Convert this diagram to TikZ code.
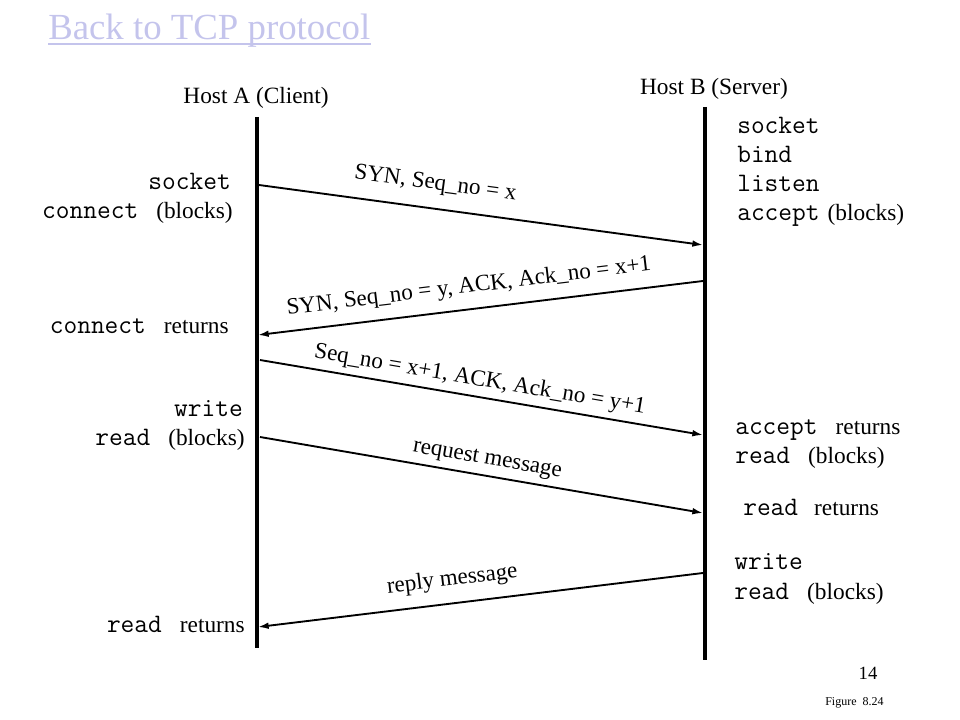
\documentclass[tikz,border=0pt]{standalone}
\usepackage{fontspec}
\setmainfont{Liberation Serif}
\usetikzlibrary{arrows.meta,calc}
\definecolor{linkcol}{RGB}{196,196,236}
\newcommand\mygap{\hspace{13.5pt}}
\newcommand\mono[1]{{\fontsize{20}{21}\ttfamily #1}}
\begin{document}
\begin{tikzpicture}[x=0.75pt,y=-0.75pt,
  txt/.style={inner sep=0pt, font=\fontsize{17.5}{21}\selectfont},
  lifeline/.style={line width=3pt},
  msg/.style={line width=1.4pt, -{Latex[length=8pt,width=5pt]}},
  lbl/.style={sloped, inner sep=0pt, font=\fontsize{17.3}{20}\selectfont},
]
\useasboundingbox (0,0) rectangle (960,720);

% title link
\node[anchor=base west, inner sep=0pt, text=linkcol, font=\fontsize{27.6}{32}\selectfont] (title) at (48,40) {Back to TCP protocol};
\draw[linkcol, line width=1.1pt] ($(title.base west)+(0,4)$) -- ($(title.base east)+(0,4)$);

% hosts
\node[txt, anchor=base] (hostA) at (256,104) {Host A (Client)};
\node[txt, anchor=base] (hostB) at (714,95) {Host B (Server)};

% lifelines
\coordinate (Atop) at (257,117);
\coordinate (Abot) at (257,648);
\coordinate (Btop) at (705,107);
\coordinate (Bbot) at (705,660);
\draw[lifeline] (Atop) -- (Abot);
\draw[lifeline] (Btop) -- (Bbot);

% message end points
\coordinate (m1s) at (259,185);
\coordinate (m1e) at (703,245);
\coordinate (m2s) at (703,281);
\coordinate (m2e) at (258,335);
\coordinate (m3s) at (260,360);
\coordinate (m3e) at (703,435);
\coordinate (m4s) at (260,437);
\coordinate (m4e) at (703,513);
\coordinate (m5s) at (703,573);
\coordinate (m5e) at (258,627);

\draw[msg] (m1s) -- node[lbl, pos=0.39, above=10pt] (l1) {SYN, Seq\_no = x} (m1e);
\draw[msg] (m2s) -- node[lbl, pos=0.52, above=8pt] (l2) {SYN, Seq\_no = y, ACK, Ack\_no = x+1} (m2e);
\draw[msg] (m3s) -- node[lbl, pos=0.49, above=4pt] (l3) {Seq\_no = x+1, ACK, Ack\_no = y+1} (m3e);
\draw[msg] (m4s) -- node[lbl, pos=0.507, above=4pt] (l4) {request message} (m4e);
\draw[msg] (m5s) -- node[lbl, pos=0.557, above=9pt] (l5) {reply message} (m5e);

% client side
\node[txt, anchor=base east] (a1) at (231,190) {\mono{socket}};
\node[txt, anchor=base east] (a2) at (233,219) {\mono{connect}\mygap(blocks)};
\node[txt, anchor=base east] (a3) at (229,333) {\mono{connect}\mygap returns};
\node[txt, anchor=base east] (a4) at (243,416) {\mono{write}};
\node[txt, anchor=base east] (a5) at (245,445) {\mono{read}\mygap(blocks)};
\node[txt, anchor=base east] (a6) at (245,632) {\mono{read}\mygap returns};

% server side
\node[txt, anchor=base west] (b1) at (737,134) {\mono{socket}};
\node[txt, anchor=base west] (b2) at (737,163) {\mono{bind}};
\node[txt, anchor=base west] (b3) at (737,192) {\mono{listen}};
\node[txt, anchor=base west] (b4) at (737,221) {\mono{accept}\hspace{6pt}(blocks)};
\node[txt, anchor=base west] (b5) at (735,434) {\mono{accept}\mygap returns};
\node[txt, anchor=base west] (b6) at (735,463) {\mono{read}\mygap(blocks)};
\node[txt, anchor=base west] (b7) at (743,515) {\mono{read}\hspace{12pt}returns};
\node[txt, anchor=base west] (b8) at (734,569) {\mono{write}};
\node[txt, anchor=base west] (b9) at (734,599) {\mono{read}\mygap(blocks)};

% page number and figure ref
\node[inner sep=0pt, anchor=base, font=\fontsize{14}{16}\selectfont] (pg) at (868,679) {14};
\node[inner sep=0pt, anchor=base west, font=\fontsize{9}{11}\selectfont] (fig) at (825,705) {Figure~~8.24};
\end{tikzpicture}
\end{document}
